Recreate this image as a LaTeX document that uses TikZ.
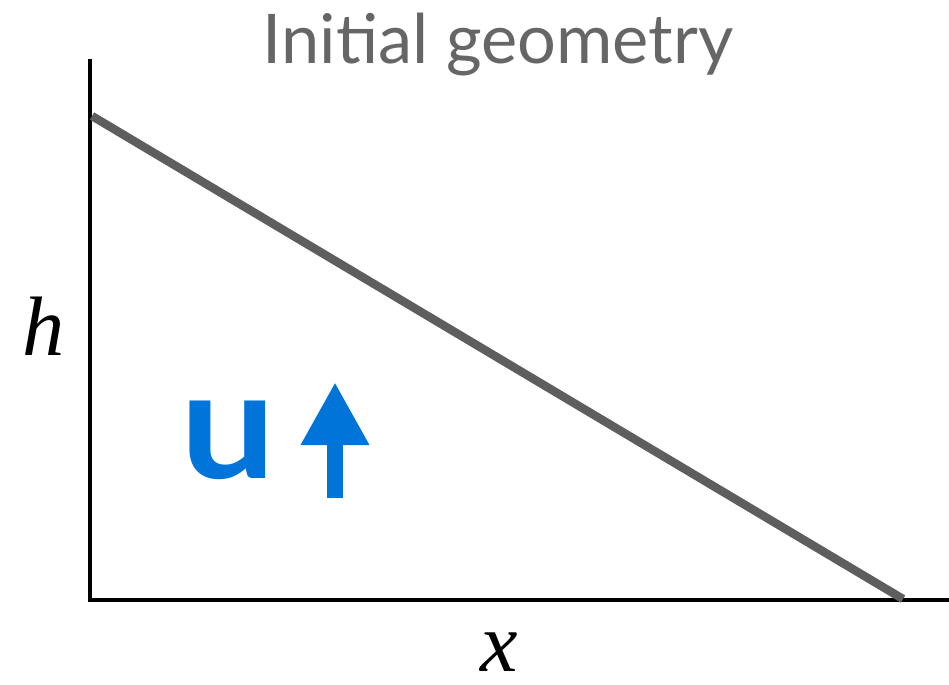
\documentclass[tikz,border=0pt]{standalone}
\usepackage{fontspec}
\setmainfont{Liberation Serif}
\setsansfont{Lato}
\usetikzlibrary{arrows.meta}

\definecolor{titlegray}{RGB}{102,102,102}
\definecolor{slopegray}{RGB}{94,94,94}
\definecolor{velblue}{RGB}{0,116,217}

\begin{document}
\begin{tikzpicture}[x=0.02cm, y=-0.02cm,
    axis/.style={line width=2.7pt, black, line join=miter},
    slope/.style={line width=4.8pt, slopegray},
    var/.style={font=\fontsize{48}{48}\selectfont\itshape,
                inner sep=0pt, anchor=base}]
  \useasboundingbox (0,0) rectangle (949,684);

  % axes
  \coordinate (ytop) at (90,59);
  \coordinate (origin) at (90,600);
  \coordinate (xend) at (949,600);
  \draw[axis] (ytop) -- (origin) -- (xend);

  % initial surface
  \coordinate (slopetop) at (92,116);
  \coordinate (slopeend) at (903,599);
  \draw[slope] (slopetop) -- (slopeend);

  \node[font=\sffamily\fontsize{39}{39}\selectfont, text=titlegray,
        inner sep=0pt, anchor=base] (title) at (498,63) {Initial geometry};
  \node[var] (hlabel) at (44,355) {h};
  \node[var] (xlabel) at (499,671) {x};

  % uplift velocity
  \node[font=\sffamily\bfseries\fontsize{86}{86}\selectfont, text=velblue,
        inner sep=0pt, anchor=base] (ulabel) at (228,478)
    {\scalebox{1.12}[1]{u}};
  \coordinate (arrowbase) at (335,498);
  \coordinate (arrowtip) at (335,382);
  \draw[line width=0.32cm, velblue,
        -{Triangle[width=1.28cm, length=1.26cm]}] (arrowbase) -- (arrowtip);
\end{tikzpicture}
\end{document}
